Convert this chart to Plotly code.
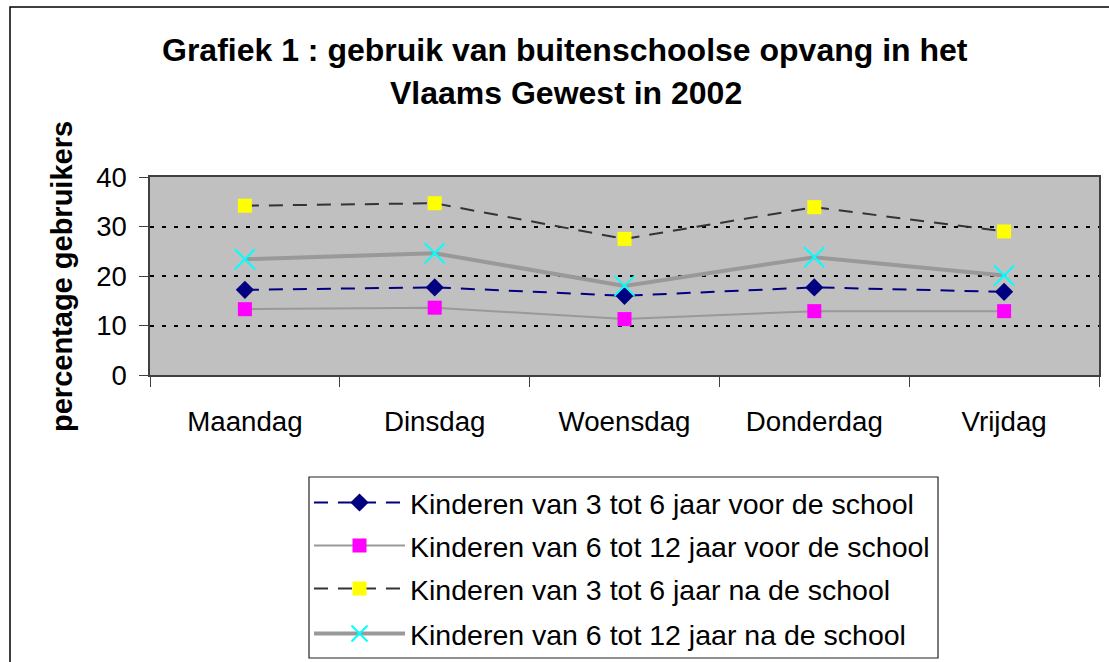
import plotly.graph_objects as go

days = ["Maandag", "Dinsdag", "Woensdag", "Donderdag", "Vrijdag"]
names = [
    "Kinderen van 3 tot 6 jaar voor de school",
    "Kinderen van 6 tot 12 jaar voor de school",
    "Kinderen van 3 tot 6 jaar na de school",
    "Kinderen van 6 tot 12 jaar na de school",
]
k36_voor = [17.2, 17.7, 16.0, 17.7, 16.8]
k612_voor = [13.3, 13.6, 11.3, 12.9, 12.9]
k36_na = [34.2, 34.7, 27.5, 33.9, 29.0]
k612_na = [23.4, 24.6, 18.0, 23.8, 20.1]
y_ticks = [0, 10, 20, 30, 40]

W, H = 1109, 662
L, R, T, B = 150, 1099, 177, 375
pw, ph = R - L, B - T


def px(x):
    return (x - L) / pw


def py(y):
    return (B - y) / ph


FONT = "Liberation Sans, Arial, sans-serif"
LEG_ROWS = [503, 546, 589, 634]

fig = go.Figure()
fig.add_trace(go.Scatter(
    x=days, y=k36_voor, name=names[0], mode="lines+markers", legend="legend",
    line=dict(color="#000080", width=2, dash="14px,10px"),
    marker=dict(symbol="diamond", size=14, color="#000080"),
))
fig.add_trace(go.Scatter(
    x=days, y=k612_voor, name=names[1], mode="lines+markers", legend="legend2",
    line=dict(color="#999999", width=2),
    marker=dict(symbol="square", size=14, color="#FF00FF"),
))
fig.add_trace(go.Scatter(
    x=days, y=k36_na, name=names[2], mode="lines+markers", legend="legend3",
    line=dict(color="#333333", width=2, dash="14px,10px"),
    marker=dict(symbol="square", size=14, color="#FFFF00"),
))
fig.add_trace(go.Scatter(
    x=days, y=k612_na, name=names[3], mode="lines+markers", legend="legend4",
    line=dict(color="#999999", width=4),
    marker=dict(symbol="x-thin", size=20, color="#00FFFF",
                line=dict(color="#00FFFF", width=2)),
))


def leg(row_y):
    return dict(
        x=px(309), y=py(row_y), xanchor="left", yanchor="middle",
        bgcolor="rgba(0,0,0,0)", borderwidth=0,
        font=dict(family=FONT, size=28.5, color="black"),
        itemwidth=91,
    )


fig.update_layout(
    width=W, height=H, autosize=False,
    margin=dict(l=L, r=W - R, t=T, b=H - B, pad=0, autoexpand=False),
    paper_bgcolor="white", plot_bgcolor="#C0C0C0",
    font=dict(family=FONT, color="black"),
    showlegend=True,
    legend=leg(LEG_ROWS[0]),
    legend2=leg(LEG_ROWS[1]),
    legend3=leg(LEG_ROWS[2]),
    legend4=leg(LEG_ROWS[3]),
    xaxis=dict(
        type="category", categoryorder="array", categoryarray=days,
        range=[-0.5, len(days) - 0.5], automargin=False,
        tickson="boundaries", ticks="outside", ticklen=10, tickwidth=1,
        tickcolor="#404040", showline=True, linecolor="#404040", linewidth=1.5,
        mirror=True, showgrid=False, zeroline=False,
        tickfont=dict(family=FONT, size=27.7, color="black"),
        ticklabelstandoff=21,
    ),
    yaxis=dict(
        range=[0, 40], tickvals=y_ticks, ticks="outside", ticklen=9,
        automargin=False,
        tickwidth=1, tickcolor="#404040", showline=True, linecolor="#404040",
        linewidth=1.5, mirror=True, showgrid=True, gridcolor="black",
        gridwidth=2, griddash="4px,8px", zeroline=False,
        tickfont=dict(family=FONT, size=27.5, color="black"),
        ticklabelstandoff=7,
    ),
    annotations=[
        dict(text="<b>Grafiek 1 : gebruik van buitenschoolse opvang in het</b>",
             xref="paper", yref="paper", x=px(565), y=py(50),
             xanchor="center", yanchor="middle", showarrow=False,
             font=dict(family=FONT, size=32, color="black")),
        dict(text="<b>Vlaams Gewest in 2002</b>",
             xref="paper", yref="paper", x=px(566), y=py(93),
             xanchor="center", yanchor="middle", showarrow=False,
             font=dict(family=FONT, size=32, color="black")),
        dict(text="<b>percentage gebruikers</b>", textangle=-90,
             xref="paper", yref="paper", x=px(62), y=py(277),
             xanchor="center", yanchor="middle", showarrow=False,
             font=dict(family=FONT, size=29, color="black")),
    ],
    shapes=[
        dict(type="rect", xref="paper", yref="paper",
             x0=px(10), x1=px(1130), y0=py(700), y1=py(7),
             line=dict(color="black", width=1.5), fillcolor="rgba(0,0,0,0)",
             layer="below"),
        dict(type="rect", xref="paper", yref="paper",
             x0=px(309), x1=px(938), y0=py(658), y1=py(477),
             line=dict(color="#222222", width=1.2), fillcolor="white",
             layer="below"),
    ],
)

fig.write_html(
    "out.html",
    config={"displayModeBar": False},
    post_script="document.body.style.margin='0';document.body.style.overflow='hidden';",
)
